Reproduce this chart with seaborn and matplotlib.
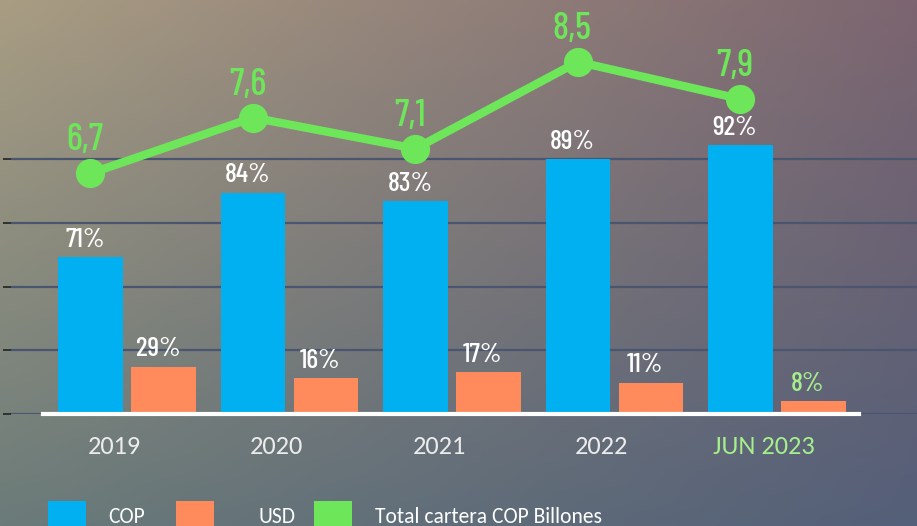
import numpy as np
import pandas as pd
import matplotlib
matplotlib.use("Agg")
import matplotlib.pyplot as plt
from matplotlib.patches import Patch
from matplotlib.colors import to_rgb
import seaborn as sns

# ---------------- data ----------------
years = ["2019", "2020", "2021", "2022", "JUN 2023"]
cop_pct = [71, 84, 83, 89, 92]
usd_pct = [29, 16, 17, 11, 8]
cop_height = [2.46, 3.47, 3.34, 4.00, 4.22]   # bar heights as drawn (chart units)
usd_height = [0.74, 0.56, 0.66, 0.49, 0.20]
total_cartera = [6.7, 7.6, 7.1, 8.5, 7.9]      # COP billones
legend_labels = ["COP", "USD", "Total cartera COP Billones"]

# ---------------- style ----------------
sns.set_theme(style="white")
plt.rcParams["font.family"] = ["Carlito", "DejaVu Sans"]

C_COP = "#00b0f0"
C_USD = "#ff8a5c"
C_LINE = "#6ee65a"
C_HI = "#a6ef8c"
C_GRID = "#4a5670"
NARROW = ["Barlow Condensed", "Pathway Gothic One", "DejaVu Sans"]

W, H = 917, 526
fig = plt.figure(figsize=(W / 100, H / 100), dpi=100)

# background gradient
bg = fig.add_axes([0, 0, 1, 1], zorder=-10)
tl, tr = np.array(to_rgb("#a99d83")), np.array(to_rgb("#7c6570"))
bl, br = np.array(to_rgb("#6b7b79")), np.array(to_rgb("#545f79"))
u = np.linspace(0, 1, 200)[None, :, None]
v = np.linspace(0, 1, 120)[:, None, None]
img = (1 - v) * ((1 - u) * tl + u * tr) + v * ((1 - u) * bl + u * br)
bg.imshow(img, aspect="auto", interpolation="bilinear", extent=[0, 1, 0, 1])
bg.set_axis_off()

# main axes
ax = fig.add_axes([11 / W, 112 / H, 906 / W, 414 / H])
ax.set_facecolor("none")

df = pd.DataFrame({
    "year": years * 2,
    "serie": ["COP"] * len(years) + ["USD"] * len(years),
    "valor": cop_height + usd_height,
})
sns.barplot(data=df, x="year", y="valor", hue="serie", order=years,
            hue_order=["COP", "USD"], palette={"COP": C_COP, "USD": C_USD},
            width=0.9, gap=0.12, saturation=1, legend=False, linewidth=0, ax=ax)

ax.set_xlim(-0.714, 4.862)
ax.set_ylim(0, 414 / 63.75)
ax.set_yticks([0, 1, 2, 3, 4])
ax.yaxis.grid(True, color=C_GRID, lw=1.6)
ax.set_axisbelow(True)
ax.set_xlabel("")
ax.set_ylabel("")
ax.tick_params(axis="y", left=False, labelleft=False)
ax.tick_params(axis="x", length=0, pad=15)
ax.set_xticks(np.arange(len(years)) - 0.08)
ax.set_xticklabels(years, fontsize=19)
for lbl, yr in zip(ax.get_xticklabels(), years):
    lbl.set_color(C_HI if yr.startswith("JUN") else "#ececec")
for s in ["left", "right", "top"]:
    ax.spines[s].set_visible(False)
ax.spines["bottom"].set_color("white")
ax.spines["bottom"].set_linewidth(3)
ax.spines["bottom"].set_bounds(-0.52, 4.505)

# percent labels
for ci, (cont, pcts) in enumerate(zip(ax.containers, [cop_pct, usd_pct])):
    for bi, (bar, p) in enumerate(zip(cont, pcts)):
        col = C_HI if (ci == 1 and bi == len(pcts) - 1) else "white"
        ax.annotate(f"{p}%", (bar.get_x() + bar.get_width() / 2, bar.get_height()),
                    xytext=(-4, 7.5), textcoords="offset points", ha="center", va="baseline",
                    fontsize=20, color=col, family=NARROW, weight="medium")

# line on twin axis
cop_x = [b.get_x() + b.get_width() / 2 for b in ax.containers[0]]
ax2 = ax.twinx()
ax2.set_facecolor("none")
sns.lineplot(x=cop_x, y=total_cartera, color=C_LINE, lw=6, marker="o", markersize=21,
             markeredgewidth=0, sort=False, ax=ax2, legend=False)
ax2.set_ylim(2.819, 9.497)
ax2.set_xlim(ax.get_xlim())
ax2.set_axis_off()
for x, t in zip(cop_x, total_cartera):
    ax2.annotate(f"{t:.1f}".replace(".", ","), (x, t), xytext=(-4, 16.5),
                 textcoords="offset points", ha="center", va="baseline",
                 fontsize=27, color=C_LINE, family=NARROW, weight="medium")

# legend (three separate entries to match spacing)
entries = [
    (C_COP, legend_labels[0], 48, 1.02),
    (C_USD, legend_labels[1], 176, 2.05),
    (C_LINE, legend_labels[2], 314, 1.07),
]
for col, lab, x0, pad in entries:
    fig.legend(handles=[Patch(facecolor=col, edgecolor="none")], labels=[lab],
               loc="upper left", bbox_to_anchor=(x0 / W, 1 - 501 / H),
               frameon=False, fontsize=15.5, labelcolor="white",
               handlelength=1.77, handleheight=1.75, handletextpad=pad,
               borderpad=0, borderaxespad=0)

fig.savefig("out.png", dpi=100)
